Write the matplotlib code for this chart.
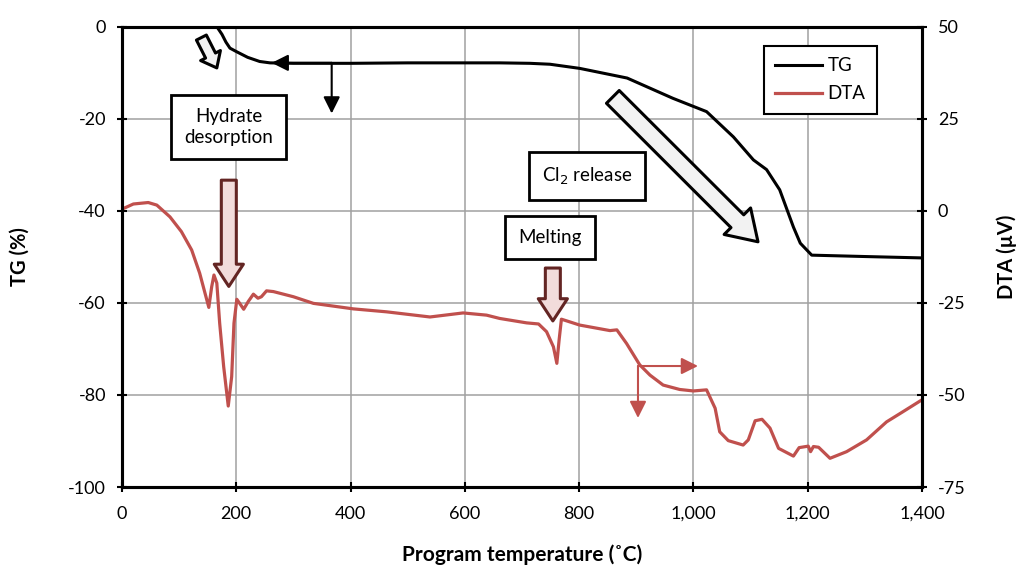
import matplotlib.pyplot as plt
from matplotlib.ticker import FuncFormatter

plt.rcParams['font.family'] = ['Lato', 'DejaVu Sans']
plt.rcParams['axes.unicode_minus'] = False

# TG (%) vs temperature
tg_temp = [160, 168, 175, 182, 189, 201, 220, 241, 259, 300, 400, 500, 600, 661, 714, 749,
           801, 884, 964, 1023, 1070, 1105, 1128, 1151, 1175, 1187, 1207, 1300, 1400]
tg_val = [1.5, -0.3, -1.6, -3.3, -4.6, -5.4, -6.6, -7.5, -7.8, -7.9, -7.9, -7.8, -7.8, -7.8,
          -7.9, -8.1, -9.0, -11.1, -15.5, -18.4, -23.9, -28.9, -31.0, -35.4, -43.5, -47.0,
          -49.6, -49.9, -50.2]

# DTA (uV) vs temperature
dta_temp = [0, 20, 46, 61, 84, 104, 122, 136, 147, 152, 157, 161, 166, 171, 178, 186, 192,
            196, 201, 206, 213, 221, 230, 238, 244, 253, 265, 300, 335, 405, 463, 539, 597,
            638, 661, 708, 729, 743, 755, 761, 765, 769, 801, 854, 866, 883, 906, 924, 947,
            976, 1000, 1023, 1038, 1046, 1061, 1087, 1096, 1108, 1120, 1134, 1149, 1175,
            1185, 1201, 1205, 1210, 1219, 1239, 1268, 1303, 1338, 1364, 1400]
dta_val = [0.5, 1.9, 2.3, 1.6, -1.6, -5.6, -10.6, -16.9, -23.3, -26.2, -20.6, -17.4, -19.6,
           -30.5, -42.3, -53.0, -45.0, -30.5, -24.0, -25.1, -26.7, -24.6, -22.6, -23.7,
           -23.3, -21.7, -21.9, -23.3, -25.1, -26.6, -27.4, -28.8, -27.7, -28.3, -29.2,
           -30.4, -30.7, -32.8, -36.9, -41.4, -35.0, -29.4, -31.0, -32.5, -32.3, -36.0,
           -41.8, -44.6, -47.3, -48.5, -48.9, -48.6, -53.6, -60.0, -62.4, -63.6, -62.2,
           -57.0, -56.6, -59.0, -64.5, -66.6, -64.3, -63.9, -65.4, -64.0, -64.2, -67.2,
           -65.4, -62.2, -57.3, -54.8, -51.3]

x_ticks = [0, 200, 400, 600, 800, 1000, 1200, 1400]
tg_ticks = [0, -20, -40, -60, -80, -100]
dta_ticks = [50, 25, 0, -25, -50, -75]

red = '#c0504d'
dark_red = '#632523'
pink = '#f2dcdb'

fig = plt.figure(figsize=(10.24, 5.68), dpi=100)
ax = fig.add_axes([0.1191, 0.1426, 0.7813, 0.8099])
ax2 = ax.twinx()

ax.plot(tg_temp, tg_val, color='black', lw=2.2, label='TG')
ax2.plot(dta_temp, dta_val, color=red, lw=2.3, label='DTA')

ax.set_xlim(0, 1400)
ax.set_ylim(-100, 0)
ax2.set_ylim(-75, 50)
ax.set_xticks(x_ticks)
ax.set_yticks(tg_ticks)
ax2.set_yticks(dta_ticks)
ax.xaxis.set_major_formatter(FuncFormatter(lambda v, p: f'{int(v):,}'))
ax.grid(True, color='#a0a0a0', lw=1.1)
ax.set_axisbelow(True)

for a in (ax, ax2):
    for s in a.spines.values():
        s.set_linewidth(2.2)
    a.tick_params(labelsize=13, width=1.5, length=7, direction='inout')
ax.tick_params(axis='x', pad=10)
ax.tick_params(axis='y', pad=8)
ax2.tick_params(axis='y', pad=8)

ax.set_xlabel('Program temperature (˚C)', fontsize=15, fontweight='bold', labelpad=16)
ax.set_ylabel('TG (%)', fontsize=14.5, fontweight='bold', labelpad=28)
ax2.set_ylabel('DTA (µV)', fontsize=14.5, fontweight='bold', labelpad=22)

h1, l1 = ax.get_legend_handles_labels()
h2, l2 = ax2.get_legend_handles_labels()
leg = ax2.legend(h1 + h2, l1 + l2, loc='upper left', bbox_to_anchor=(0.8025, 0.9587),
                 borderaxespad=0, fontsize=13.5, fancybox=False, framealpha=1,
                 handlelength=2.5, labelspacing=0.6, borderpad=0.6, handletextpad=0.3)
leg.get_frame().set_edgecolor('black')
leg.get_frame().set_linewidth(1.5)

box = dict(boxstyle='square,pad=0.7', fc='white', ec='black', lw=2)
ax.text(187, -21.7, 'Hydrate\ndesorption', ha='center', va='center', fontsize=13.5,
        bbox=box, linespacing=1.3, zorder=5)
ax.text(814, -32.4, 'Cl$_2$ release', ha='center', va='center', fontsize=13.5,
        bbox=box, zorder=5)
ax.text(749, -45.7, 'Melting', ha='center', va='center', fontsize=13.5,
        bbox=box, zorder=5)


def fat_arrow(tail, tip, tw, hw, hl, fc, ec):
    ax.annotate('', xy=tip, xytext=tail, zorder=6,
                arrowprops=dict(arrowstyle=f'simple,tail_width={tw},head_width={hw},head_length={hl}',
                                mutation_scale=20, fc=fc, ec=ec, lw=2.2,
                                shrinkA=0, shrinkB=0))


# mutation_scale 20pt ~ 27.8px
fat_arrow((187, -33.3), (187, -56.4), 0.54, 1.05, 0.8, pink, dark_red)
fat_arrow((754, -52.4), (754, -63.9), 0.54, 1.05, 0.8, pink, dark_red)
fat_arrow((859, -15.2), (1113, -46.7), 0.65, 1.35, 1.05, '#f2f2f2', 'black')
fat_arrow((139, -2.3), (166, -8.9), 0.4, 0.8, 0.5, '#f2f2f2', 'black')


def thin_arrow(tail, tip, color, lw):
    ax.annotate('', xy=tip, xytext=tail, zorder=6,
                arrowprops=dict(arrowstyle='-|>,head_length=0.5,head_width=0.25',
                                mutation_scale=20, color=color, lw=lw,
                                shrinkA=0, shrinkB=0))


thin_arrow((367, -7.8), (262, -7.8), 'black', 1.5)
thin_arrow((367, -7.8), (367, -18.8), 'black', 1.5)
thin_arrow((903, -73.7), (1008, -73.7), red, 1.5)
thin_arrow((903, -73.7), (903, -85.0), red, 1.5)

fig.savefig('out.png', dpi=100)
